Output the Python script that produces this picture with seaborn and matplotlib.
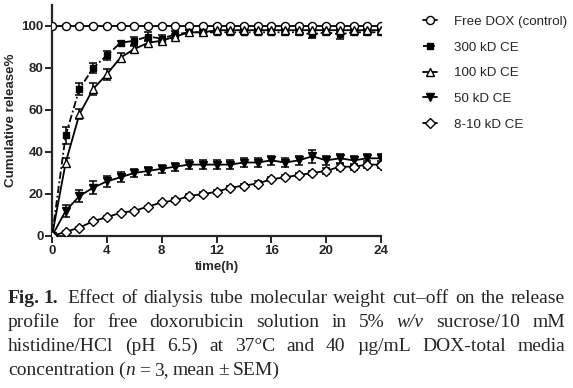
import numpy as np
import pandas as pd
import matplotlib
matplotlib.use('Agg')
import matplotlib.pyplot as plt
import seaborn as sns
from matplotlib.lines import Line2D

# time points (h)
hours = list(range(0, 25))

series_names = ['Free DOX (control)', '300 kD CE', '100 kD CE', '50 kD CE', '8-10 kD CE']

free_dox = [100] * 25
kd300 = [0, 48, 70, 80, 86, 92, 93, 95, 94, 96, 97, 97, 97, 97, 97, 97, 97, 97, 97, 96, 97, 96, 97, 97, 97]
kd100 = [0, 35, 58, 70, 77, 85, 89, 92, 93, 95, 97, 97, 98, 98, 98, 98, 98, 98, 98, 98, 98, 98, 98, 98, 98]
kd50 = [0, 12, 19, 23, 26, 28, 30, 31, 32, 33, 34, 34, 34, 34, 35, 35, 36, 35, 36, 38, 36, 37, 36, 37, 37]
kd8 = [0, 2, 4, 7, 9, 11, 12, 14, 16, 17, 19, 20, 21, 23, 24, 25, 27, 28, 29, 30, 31, 33, 33, 34, 34]

err_free = [0.5] * 25
err300 = [0, 4, 3, 2.5, 2, 1, 2, 2, 1.5, 1.5, 1, 1, 1, 1, 1, 1, 1, 1.5, 1.5, 1.5, 1.5, 2, 1.5, 1.5, 1.5]
err100 = [0, 2, 2.5, 3, 2.5, 2, 1.5, 1.5, 1, 1, 1, 1, 1, 1, 1, 1, 1, 1, 1, 1, 1, 1, 1, 1, 1]
err50 = [0, 3, 3, 3, 2.5, 2.5, 2, 2, 2, 2, 2, 2, 2, 2, 2, 2, 2, 2, 2, 3, 2, 2, 2, 2, 2]
err8 = [0, 0.5, 0.5, 0.5, 0.5, 0.5, 0.5, 0.5, 0.5, 1, 1, 1, 1, 1, 1, 1, 1, 1, 1, 1, 1.5, 1.5, 1.5, 1.5, 1.5]

values = [free_dox, kd300, kd100, kd50, kd8]
errors = [err_free, err300, err100, err50, err8]

df = pd.DataFrame({
    'time': hours * len(series_names),
    'release': sum(values, []),
    'sem': sum(errors, []),
    'group': sum([[n] * len(hours) for n in series_names], []),
})

sns.set_style('ticks')
plt.rcParams['font.family'] = ['Liberation Sans', 'DejaVu Sans']

markers = {'Free DOX (control)': 'o', '300 kD CE': 's', '100 kD CE': '^',
           '50 kD CE': 'v', '8-10 kD CE': 'D'}
fills = {'Free DOX (control)': 'white', '300 kD CE': 'black', '100 kD CE': 'white',
         '50 kD CE': 'black', '8-10 kD CE': 'white'}
msizes = {'Free DOX (control)': 5.8, '300 kD CE': 4.8, '100 kD CE': 5.8,
          '50 kD CE': 5.2, '8-10 kD CE': 4.8}
styles = {'Free DOX (control)': '-', '300 kD CE': (0, (4, 1.5, 1, 1.5)), '100 kD CE': '-',
          '50 kD CE': '-', '8-10 kD CE': '-'}

fig = plt.figure(figsize=(5.73, 3.88), dpi=100)
ax = fig.add_axes([52 / 573, 152 / 388, 329 / 573, 231 / 388])

for name in series_names:
    sub = df[df['group'] == name]
    ax.errorbar(sub['time'], sub['release'], yerr=sub['sem'], fmt='none',
                ecolor='black', elinewidth=1.1, capsize=3, capthick=1.1, zorder=2)
    sns.lineplot(data=sub, x='time', y='release', ax=ax, color='black',
                 linewidth=1.3, linestyle=styles[name], marker=markers[name],
                 markersize=msizes[name], markerfacecolor=fills[name],
                 markeredgecolor='black', markeredgewidth=1.0, zorder=3,
                 legend=False, errorbar=None)

ax.set_xlim(0, 24)
ax.set_ylim(0, 110)
ax.set_xticks([0, 4, 8, 12, 16, 20, 24])
ax.set_yticks([0, 20, 40, 60, 80, 100])
ax.spines['top'].set_visible(False)
ax.spines['right'].set_visible(False)
for s in ['left', 'bottom']:
    ax.spines[s].set_linewidth(1.6)
ax.tick_params(width=1.4, length=5, labelsize=9.6, pad=1.2)
for lab in ax.get_xticklabels() + ax.get_yticklabels():
    lab.set_fontweight('bold')
ax.set_xlabel('time(h)', fontsize=9.5, fontweight='bold', labelpad=3)
ax.set_ylabel('Cumulative release%', fontsize=9.6, fontweight='bold', labelpad=3)

handles = [Line2D([0], [0], color='black', lw=1.3, linestyle=styles[n],
                  marker=markers[n], markersize=msizes[n],
                  markerfacecolor=fills[n], markeredgecolor='black',
                  markeredgewidth=1.0) for n in series_names]
fig.legend(handles, series_names, loc='upper left',
           bbox_to_anchor=(416 / 573, 1 - 9 / 388), frameon=False,
           fontsize=9.6, handlelength=1.05, handletextpad=1.3,
           labelspacing=1.0, borderpad=0)

# caption, justified line by line
cap_lines = [
    [('Fig.', 'bold', 'normal'), ('1.', 'bold', 'normal'), ('Effect', 'normal', 'normal'),
     ('of', 'normal', 'normal'), ('dialysis', 'normal', 'normal'), ('tube', 'normal', 'normal'),
     ('molecular', 'normal', 'normal'), ('weight', 'normal', 'normal'),
     ('cut\u2013off', 'normal', 'normal'), ('on', 'normal', 'normal'), ('the', 'normal', 'normal'),
     ('release', 'normal', 'normal')],
    [('profile', 'normal', 'normal'), ('for', 'normal', 'normal'), ('free', 'normal', 'normal'),
     ('doxorubicin', 'normal', 'normal'), ('solution', 'normal', 'normal'), ('in', 'normal', 'normal'),
     ('5%', 'normal', 'normal'), ('w/v', 'normal', 'italic'), ('sucrose/10', 'normal', 'normal'),
     ('mM', 'normal', 'normal')],
    [('histidine/HCl', 'normal', 'normal'), ('(pH', 'normal', 'normal'), ('6.5)', 'normal', 'normal'),
     ('at', 'normal', 'normal'), ('37\u00b0C', 'normal', 'normal'), ('and', 'normal', 'normal'),
     ('40', 'normal', 'normal'), ('\u00b5g/mL', 'normal', 'normal'), ('DOX-total', 'normal', 'normal'),
     ('media', 'normal', 'normal')],
    [('concentration', 'normal', 'normal'), ('(', 'normal', 'normal'), ('n', 'normal', 'italic'),
     ('=', 'normal', 'normal'), ('3,', 'normal', 'normal'), ('mean', 'normal', 'normal'),
     ('\u00b1', 'normal', 'normal'), ('SEM)', 'normal', 'normal')],
]
baselines = [303, 327, 351, 375]
left_px, right_px = 8, 565
fig.canvas.draw()
renderer = fig.canvas.get_renderer()
for i, (line, yb) in enumerate(zip(cap_lines, baselines)):
    texts = []
    for word, weight, style in line:
        t = fig.text(0, 1 - yb / 388, word, fontsize=14, fontweight=weight,
                     fontstyle=style, family=['Liberation Serif', 'DejaVu Serif'],
                     va='baseline', ha='left')
        texts.append(t)
    widths = [t.get_window_extent(renderer).width for t in texts]
    last = i == len(cap_lines) - 1
    if not last:
        gap = (right_px - left_px - sum(widths)) / (len(texts) - 1)
    else:
        gap = 4.0
    x = left_px
    for j, (t, w) in enumerate(zip(texts, widths)):
        if last and line[j][0] == 'n':
            x -= gap
        if i == 0 and j == 1:
            x -= gap * 0.4
        if i == 0 and j == 2:
            x += gap * 0.4
        t.set_x(x / 573)
        x += w + gap

fig.savefig('out.png', dpi=100)
